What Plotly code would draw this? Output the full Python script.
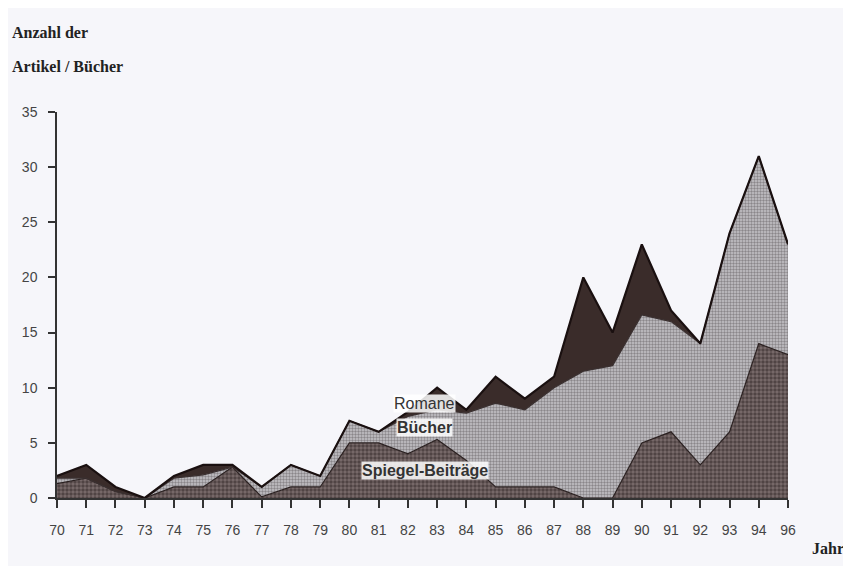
import plotly.graph_objects as go

years = ["70", "71", "72", "73", "74", "75", "76", "77", "78", "79", "80", "81", "82",
         "83", "84", "85", "86", "87", "88", "89", "90", "91", "92", "93", "94", "96"]
spiegel = [1.3, 1.8, 0.6, 0, 1, 1, 2.8, 0.1, 1, 1, 5, 5, 4, 5.3, 3.4, 1, 1, 1, 0, 0, 5, 6, 3, 6, 14, 13]
buecher = [0.5, 0, 0, 0, 0.8, 1.1, 0, 0.9, 2, 1, 2, 1, 3.4, 2.7, 4.3, 7.6, 7, 9, 11.5, 12, 11.6, 10, 11, 18, 17, 10]
romane = [0.2, 1.2, 0.4, 0, 0.2, 0.9, 0.2, 0, 0, 0, 0, 0, 0.4, 2, 0.3, 2.4, 1, 1, 8.5, 3, 6.4, 1, 0, 0, 0, 0]
y_ticks = [0, 5, 10, 15, 20, 25, 30, 35]

BG = "#f6f6fa"
fig = go.Figure()
fig.add_trace(go.Scatter(
    x=years, y=spiegel, name="Spiegel-Beiträge", stackgroup="one", mode="lines",
    line=dict(color="#2a2020", width=1.2),
    fillcolor="#5e5050",
    fillpattern=dict(shape=".", bgcolor="#7a6c6c", fgcolor="#261c1c", size=4, solidity=0.6),
))
fig.add_trace(go.Scatter(
    x=years, y=buecher, name="Bücher", stackgroup="one", mode="lines",
    line=dict(color="#3a3030", width=1.2),
    fillcolor="#a8a6aa",
    fillpattern=dict(shape=".", bgcolor="#c6c4c8", fgcolor="#4e4a4c", size=3, solidity=0.5),
))
fig.add_trace(go.Scatter(
    x=years, y=romane, name="Romane", stackgroup="one", mode="lines",
    line=dict(color="#1a1010", width=2.2),
    fillcolor="#3a2c2a",
))

label_font = dict(family="Liberation Sans, Arial, sans-serif", size=16, color="#333333")
fig.add_annotation(x=12.58, y=8.6, text="Romane", showarrow=False, font=label_font,
                   bgcolor="rgba(255,255,255,0.85)", borderpad=0)
fig.add_annotation(x=12.58, y=6.4, text="<b>Bücher</b>", showarrow=False, font=label_font,
                   bgcolor="rgba(255,255,255,0.85)", borderpad=0)
fig.add_annotation(x=12.58, y=2.5, text="<b>Spiegel-Beiträge</b>", showarrow=False, font=label_font,
                   bgcolor="rgba(255,255,255,0.85)", borderpad=0)

title_font = dict(family="Liberation Serif, Times New Roman, serif", size=16, color="#222222")
fig.add_annotation(xref="paper", yref="paper", x=-0.0643, y=1.207, xanchor="left", yanchor="middle",
                   text="<b>Anzahl der</b>", showarrow=False, font=title_font)
fig.add_annotation(xref="paper", yref="paper", x=-0.0643, y=1.119, xanchor="left", yanchor="middle",
                   text="<b>Artikel / Bücher</b>", showarrow=False, font=title_font)
fig.add_annotation(xref="paper", yref="paper", x=1.08, y=-0.13, xanchor="right", yanchor="middle",
                   text="<b>Jahr</b>", showarrow=False, font=title_font)

fig.update_layout(
    width=851, height=566,
    margin=dict(l=49, r=71, t=104, b=76),
    paper_bgcolor=BG, plot_bgcolor=BG,
    showlegend=False,
    xaxis=dict(
        type="category", range=[0, 25], showgrid=False, zeroline=False,
        showline=True, linecolor="#333333", linewidth=1.5,
        ticks="outside", ticklen=8, tickcolor="#333333", tickwidth=1.5,
        ticklabelstandoff=10,
        tickfont=dict(family="Liberation Sans, Arial, sans-serif", size=14, color="#444444"),
    ),
    yaxis=dict(
        range=[0, 35], tickvals=y_ticks, showgrid=False, zeroline=False,
        showline=True, linecolor="#333333", linewidth=1.5,
        ticks="outside", ticklen=7, tickcolor="#333333", tickwidth=1.5,
        ticklabelstandoff=8,
        tickfont=dict(family="Liberation Sans, Arial, sans-serif", size=14, color="#444444"),
    ),
)

fig.write_html("out.html")
